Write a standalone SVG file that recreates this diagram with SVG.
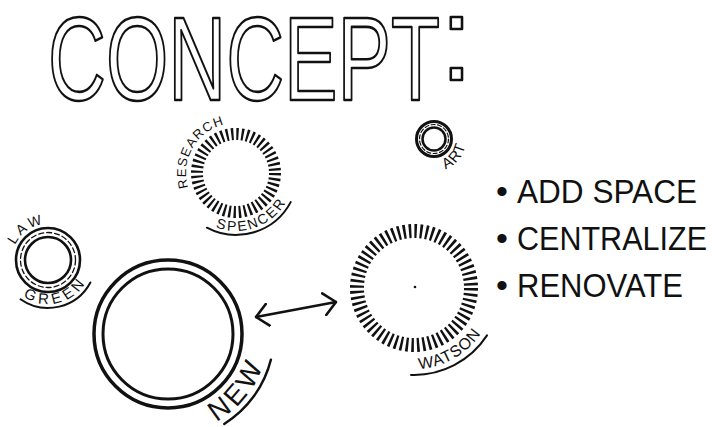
<svg xmlns="http://www.w3.org/2000/svg" width="712" height="427" viewBox="0 0 712 427">
<style>
.ink{fill:none;stroke:#111;stroke-linecap:round;stroke-linejoin:round}
.ticks{fill:none;stroke:#111;stroke-linecap:butt}
.lbl{font-family:"Liberation Sans",Arial,sans-serif;fill:#111}
.list{font-family:"Liberation Sans",Arial,sans-serif;fill:#111;font-size:34px}
.title{font-family:"Liberation Sans",Arial,sans-serif;font-size:118px;fill:#fff;stroke:#111;stroke-width:2.6;stroke-linejoin:round}
</style>
<defs>
<marker id="head" viewBox="0 0 14 24" refX="13" refY="12" markerWidth="14" markerHeight="24" markerUnits="userSpaceOnUse" orient="auto-start-reverse">
<path d="M1,1 L13,12 L1,23" fill="none" stroke="#111" stroke-width="2.6" stroke-linecap="round" stroke-linejoin="round"/>
</marker>
<path id="p-research" d="M192.7,198 A50,50 0 0 1 236,123"/>
<path id="p-spencer" d="M198.7,217.4 A58,58 0 0 0 293.1,183.1"/>
<path id="p-art" d="M439.6,170.5 A32,32 0 0 0 466,139"/>
<path id="p-law" d="M12.5,253.8 A36,36 0 0 1 54.3,224.5"/>
<path id="p-green" d="M19.7,293.7 A44,44 0 0 0 88.8,276.5"/>
<path id="p-new" d="M185.4,432.5 A100,100 0 0 0 267.9,330.5"/>
<path id="p-watson" d="M379.8,361.4 A81,81 0 0 0 494.7,295.1"/>
</defs>
<rect width="712" height="427" fill="#fff"/>

<g id="title">
<text class="title" x="48" y="100"><tspan textLength="392" lengthAdjust="spacingAndGlyphs">CONCEPT</tspan><tspan x="440" y="80">:</tspan></text>
</g>

<g id="spencer">
<circle class="ticks" cx="236" cy="173" r="39" stroke-width="12" stroke-dasharray="2.3 2.805"/>
<text class="lbl" font-size="13" letter-spacing="1.2"><textPath href="#p-research" startOffset="50%" text-anchor="middle">RESEARCH</textPath></text>
<text class="lbl" font-size="14" letter-spacing="2"><textPath href="#p-spencer" startOffset="50%" text-anchor="middle">SPENCER</textPath></text>
<path class="ink" stroke-width="2" d="M206.9,227.7 A62,62 0 0 0 290.7,202.1"/>
</g>

<g id="art">
<circle class="ink" cx="434" cy="139" r="17.5" stroke-width="3"/>
<circle class="ink" cx="434" cy="139" r="14.5" stroke-width="1.2" stroke-dasharray="4 2.5"/>
<circle class="ink" cx="434" cy="139" r="11.5" stroke-width="2.5"/>
<text class="lbl" font-size="15" letter-spacing="1"><textPath href="#p-art" startOffset="50%" text-anchor="middle">ART</textPath></text>
</g>

<g id="law-green">
<circle class="ink" cx="48" cy="260" r="32" stroke-width="2.6"/>
<circle class="ink" cx="48" cy="260" r="27.5" stroke-width="1.3" stroke-dasharray="5 3"/>
<circle class="ink" cx="48" cy="260" r="23" stroke-width="2.6"/>
<text class="lbl" font-size="14" letter-spacing="3"><textPath href="#p-law" startOffset="50%" text-anchor="middle">LAW</textPath></text>
<text class="lbl" font-size="15" letter-spacing="4"><textPath href="#p-green" startOffset="50%" text-anchor="middle">GREEN</textPath></text>
<path class="ink" stroke-width="2" d="M20.5,299.3 A48,48 0 0 0 90.4,282.5"/>
</g>

<g id="new">
<circle class="ink" cx="168" cy="334" r="74" stroke-width="3.5"/>
<circle class="ink" cx="168" cy="334" r="65" stroke-width="3"/>
<text class="lbl" font-size="28" letter-spacing="4"><textPath href="#p-new" startOffset="50%" text-anchor="middle">NEW</textPath></text>
<path class="ink" stroke-width="2.4" d="M224.2,423.9 A106,106 0 0 0 270.9,359.6"/>
</g>

<g id="watson">
<circle class="ticks" cx="414" cy="288" r="57" stroke-width="14" stroke-dasharray="2.5 3.095"/>
<circle cx="415" cy="287" r="1.3" fill="#111"/>
<text class="lbl" font-size="16" letter-spacing="1"><textPath href="#p-watson" startOffset="50%" text-anchor="middle">WATSON</textPath></text>
<path class="ink" stroke-width="2" d="M411,374.9 A87,87 0 0 0 487,335.4"/>
</g>

<g id="goals">
<text class="list" y="203"><tspan x="496">•</tspan><tspan x="517" textLength="180" lengthAdjust="spacingAndGlyphs">ADD SPACE</tspan></text>
<text class="list" y="250"><tspan x="496">•</tspan><tspan x="517" textLength="190" lengthAdjust="spacingAndGlyphs">CENTRALIZE</tspan></text>
<text class="list" y="297"><tspan x="496">•</tspan><tspan x="517" textLength="166" lengthAdjust="spacingAndGlyphs">RENOVATE</tspan></text>
</g>

<g id="connectors">
<path class="ink" stroke-width="2.6" d="M256,317 L336,302" marker-start="url(#head)" marker-end="url(#head)"/>
</g>
</svg>
